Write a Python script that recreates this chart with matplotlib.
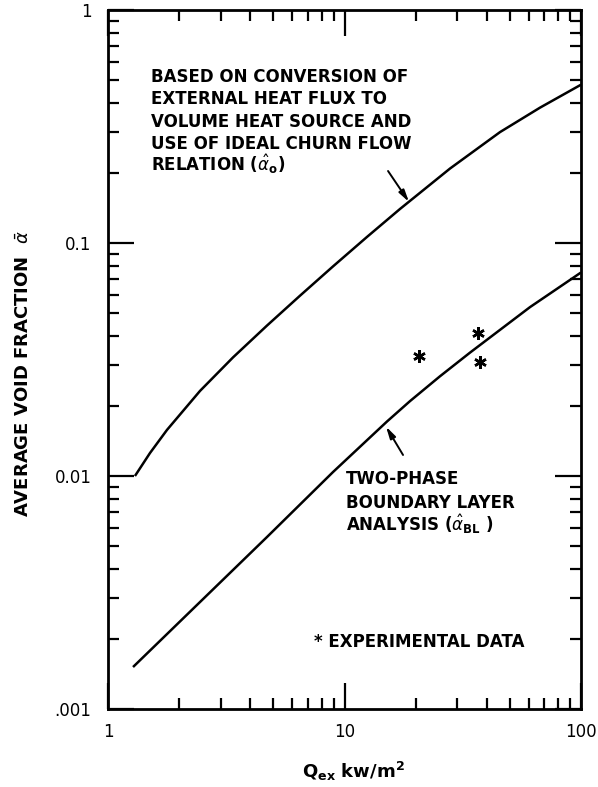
import matplotlib
matplotlib.use('Agg')
import matplotlib.pyplot as plt
from matplotlib.ticker import FixedLocator, NullFormatter

plt.rcParams['font.family'] = ['DejaVu Sans']
plt.rcParams['mathtext.fontset'] = 'dejavusans'

# ---- data ----
q_upper = [1.30, 1.505, 1.776, 2.449, 3.378, 4.702, 6.483, 8.942, 12.45, 17.17, 27.93, 45.45, 67.1, 100.0]
alpha_upper = [0.0100, 0.01255, 0.01577, 0.02318, 0.03229, 0.04422, 0.05940, 0.07936,
               0.1062, 0.1400, 0.2087, 0.2992, 0.3810, 0.4780]

q_lower = [1.276, 2.449, 4.702, 8.942, 15.12, 18.92, 25.3, 33.94, 60.84, 100.0]
alpha_lower = [0.001514, 0.002878, 0.005472, 0.01040, 0.01713, 0.02096, 0.02676, 0.03385, 0.05305, 0.07473]

q_exp = [20.7, 36.7, 37.4]
alpha_exp = [0.0327, 0.0411, 0.0308]

x_ticks = [1, 10, 100]
x_ticklabels = ['1', '10', '100']
y_ticks = [0.001, 0.01, 0.1, 1]
y_ticklabels = ['.001', '0.01', '0.1', '1']

upper_text = ['BASED ON CONVERSION OF',
              'EXTERNAL HEAT FLUX TO',
              'VOLUME HEAT SOURCE AND',
              'USE OF IDEAL CHURN FLOW',
              r'RELATION ($\hat{\alpha}_{\mathbf{o}}$)']
lower_text = ['TWO-PHASE',
              'BOUNDARY LAYER',
              r'ANALYSIS ($\hat{\alpha}_{\mathbf{BL}}$ )']
legend_text = '* EXPERIMENTAL DATA'

W, H = 598, 787
fig = plt.figure(figsize=(W / 100, H / 100), dpi=100)
L, R, T, B = 108, 581, 10, 709
ax = fig.add_axes([L / W, 1 - B / H, (R - L) / W, (B - T) / H])

def fx(px):
    return px / W

def fy(py):
    return 1 - py / H

ax.set_xscale('log')
ax.set_yscale('log')
ax.set_xlim(1, 100)
ax.set_ylim(0.001, 1)

ax.plot(q_upper, alpha_upper, color='black', lw=1.8, solid_capstyle='butt', solid_joinstyle='round')
ax.plot(q_lower, alpha_lower, color='black', lw=1.8, solid_capstyle='butt', solid_joinstyle='round')
ax.plot(q_exp, alpha_exp, linestyle='none', marker=(6, 2, 0), markersize=9,
        markeredgewidth=1.8, color='black')

for s in ax.spines.values():
    s.set_linewidth(2.0)

ax.xaxis.set_major_locator(FixedLocator(x_ticks))
ax.set_xticklabels(x_ticklabels)
ax.yaxis.set_major_locator(FixedLocator(y_ticks))
ax.set_yticklabels(y_ticklabels)
minors_x = [m * d for d in (1, 10) for m in range(2, 10)]
minors_y = [m * d for d in (0.001, 0.01, 0.1) for m in range(2, 10)]
ax.xaxis.set_minor_locator(FixedLocator(minors_x))
ax.yaxis.set_minor_locator(FixedLocator(minors_y))
ax.xaxis.set_minor_formatter(NullFormatter())
ax.yaxis.set_minor_formatter(NullFormatter())

ax.tick_params(which='both', direction='in', top=True, right=True, width=1.6, colors='black')
ax.tick_params(which='major', length=19, labelsize=12)
ax.tick_params(which='minor', length=8)
ax.tick_params(axis='y', which='major', pad=12)
ax.tick_params(axis='x', which='major', pad=10)

ax.set_xlabel(r'Q$_{\mathbf{ex}}$ kw/m$^{\mathbf{2}}$', fontsize=13, fontweight='bold')
ax.xaxis.label.set_ha('left')
ax.xaxis.label.set_va('baseline')
ax.xaxis.set_label_coords((302 - L) / (R - L), (B - 778) / (B - T))

ax.set_ylabel(r'AVERAGE VOID FRACTION  $\bar{\alpha}$', fontsize=13, fontweight='bold')
ax.yaxis.label.set_ha('left')
ax.yaxis.label.set_va('center')
ax.yaxis.set_label_coords((24 - L) / (R - L), (B - 517) / (B - T))

for i, line in enumerate(upper_text):
    fig.text(fx(151), fy(82 + 22.3 * i), line, fontsize=12, fontweight='bold',
             ha='left', va='baseline')
for i, line in enumerate(lower_text):
    fig.text(fx(346), fy(484 + 23.5 * i), line, fontsize=12, fontweight='bold',
             ha='left', va='baseline')
fig.text(fx(314), fy(647), legend_text, fontsize=12, fontweight='bold',
         ha='left', va='baseline')

arrow = dict(arrowstyle='-|>,head_width=0.18,head_length=0.7', lw=1.4, color='black',
             shrinkA=0, shrinkB=0)
ax.annotate('', xy=(18.74, 0.150), xytext=(15.28, 0.2037), arrowprops=arrow)
ax.annotate('', xy=(14.98, 0.0163), xytext=(17.68, 0.01231), arrowprops=arrow)

fig.savefig('out.png', dpi=100, facecolor='white')
